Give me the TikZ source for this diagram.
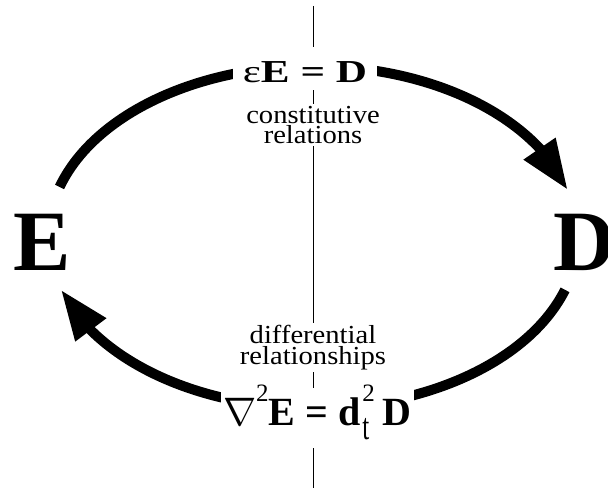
\documentclass[tikz,border=0pt]{standalone}
\usepackage{graphicx}
\usepackage{fontspec}
\setmainfont{Liberation Serif}
\usetikzlibrary{arrows.meta,bending,calc}

\newcommand{\bigfont}{\fontsize{86}{86}\selectfont\bfseries}
\newcommand{\topeqfont}{\fontsize{32}{32}\selectfont}
\newcommand{\boteqfont}{\fontsize{40}{40}\selectfont}
\newcommand{\notefont}{\fontsize{26}{20.5}\selectfont}
\newcommand{\idxfont}{\fontsize{25}{25}\selectfont}
\newcommand{\gradsym}{\scalebox{1.6}{\fontsize{24.88}{25}\selectfont$\nabla$}}

\begin{document}
\begin{tikzpicture}[x=1pt,y=1pt,
  flow/.style={line width=10pt, -{Triangle[length=50pt,width=36pt,flex]}},
  eqbox/.style={fill=white, inner ysep=2pt},
  notebox/.style={font=\notefont, fill=white, align=center, inner sep=2pt, xscale=1.1},
  letter/.style={font=\bigfont, inner sep=0pt}]

\useasboundingbox (0,0) rectangle (608,488);

% divider
\coordinate (divtop) at (313,482);
\coordinate (divbot) at (313,0);
\draw[line width=1pt] (divtop) -- (divbot);

% the two arcs
\coordinate (ctr) at (313,251);
\coordinate (topstart) at ($(ctr)+(163:265pt and 171pt)$);
\coordinate (botstart) at ($(ctr)+(-18:265pt and 171pt)$);

\draw[flow] (topstart) arc[start angle=163, end angle=16, x radius=265pt, y radius=171pt];
\draw[flow] (botstart) arc[start angle=-18, end angle=-162, x radius=265pt, y radius=171pt];

% fields
\node[letter, anchor=base west] (E) at (13.5,218) {E};
\node[letter, anchor=base west] (D) at (553.5,218) {D};

% equations
\node[eqbox, font=\topeqfont, xscale=1.35, inner xsep=7pt, text height=34pt, text depth=5pt, anchor=base] (eqtop) at (305,405) {ε\textbf{E} \textbf{=} \textbf{D}};

\node[eqbox, font=\boteqfont, inner xsep=3pt, text height=35pt, text depth=21pt, anchor=base] (eqbot) at (317.5,63) {%
\gradsym\kern-1pt\raisebox{24pt}{\idxfont 2}\textbf{E} \textbf{=} \textbf{d}\kern2pt\rlap{\raisebox{24pt}{\idxfont 2}}\raisebox{-14pt}{\scalebox{1}[1.5]{\idxfont t}}\kern3pt\ \textbf{D}};

% labels
\node[notebox, anchor=north] (reltop) at (313,384) {constitutive\\relations};
\node[notebox, anchor=north] (relbot) at (313,165) {differential\\relationships};

\end{tikzpicture}
\end{document}
